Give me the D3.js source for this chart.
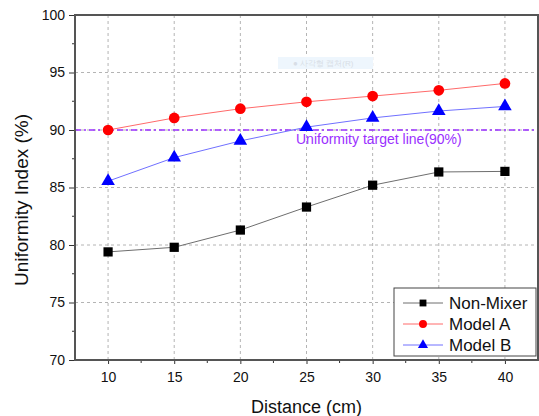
<!DOCTYPE html>
<html>
<head>
<meta charset="utf-8">
<script src="https://cdn.jsdelivr.net/npm/d3@7"></script>
<style>
  body { margin: 0; background: #fff; }
  text { font-family: "Liberation Sans", Arial, sans-serif; }
</style>
</head>
<body>
<script>
const width = 539;
const height = 416;
const padLeft = 75, padRight = 538, padTop = 15, padBottom = 360;

const distances = [10, 15, 20, 25, 30, 35, 40];
const nonMixer = [79.4, 79.8, 81.3, 83.3, 85.2, 86.35, 86.4];
const modelA = [90.0, 91.05, 91.85, 92.45, 92.95, 93.45, 94.05];
const modelB = [85.55, 87.6, 89.05, 90.25, 91.05, 91.65, 92.05];
const xTicks = [10, 15, 20, 25, 30, 35, 40];
const yTicks = [70, 75, 80, 85, 90, 95, 100];
const target = 90;

const series = [
  {name: "Non-Mixer", values: nonMixer, line: "#6e6e6e", fill: "#000000", shape: d3.symbolSquare, size: 85},
  {name: "Model A", values: modelA, line: "#ff6a6a", fill: "#ff0000", shape: d3.symbolCircle, size: 90},
  {name: "Model B", values: modelB, line: "#7070ff", fill: "#0000ff", shape: d3.symbolTriangle, size: 80}
];

const x = d3.scaleLinear().domain([7.5, 42.5]).range([padLeft, padRight]);
const y = d3.scaleLinear().domain([70, 100]).range([padBottom, padTop]);

const svg = d3.select("body").append("svg")
  .attr("width", width).attr("height", height);

// grid
svg.append("g").selectAll("line").data(xTicks).enter().append("line")
  .attr("x1", d => x(d)).attr("x2", d => x(d))
  .attr("y1", padTop).attr("y2", padBottom)
  .attr("stroke", "#b4b4b4").attr("stroke-width", 1).attr("stroke-dasharray", "3,3");
svg.append("g").selectAll("line").data(yTicks.filter(d => d > 70 && d < 100)).enter().append("line")
  .attr("x1", padLeft).attr("x2", padRight)
  .attr("y1", d => y(d)).attr("y2", d => y(d))
  .attr("stroke", "#b4b4b4").attr("stroke-width", 1).attr("stroke-dasharray", "3,3");

// faint screen-capture tooltip artefact
svg.append("rect").attr("x", 278).attr("y", 57).attr("width", 95).attr("height", 12)
  .attr("fill", "#eef6fd");
svg.append("text").attr("x", 293).attr("y", 66).attr("font-size", 8).attr("fill", "#d8dee6")
  .text("● 사각형 캡처(R)");

// target line
svg.append("line")
  .attr("x1", padLeft).attr("x2", padRight)
  .attr("y1", y(target)).attr("y2", y(target))
  .attr("stroke", "#9b30ff").attr("stroke-width", 1.5).attr("stroke-dasharray", "6,3,2,3");
svg.append("text").attr("x", 296).attr("y", 144)
  .attr("font-size", 14).attr("fill", "#9b30ff")
  .text("Uniformity target line(90%)");

// axes
const xAxis = d3.axisBottom(x).tickValues(xTicks).tickSize(4).tickPadding(8);
const yAxis = d3.axisLeft(y).tickValues(yTicks).tickSize(6).tickPadding(4);

const gx = svg.append("g").attr("transform", `translate(0,${padBottom})`).call(xAxis);
const gy = svg.append("g").attr("transform", `translate(${padLeft},0)`).call(yAxis);
[gx, gy].forEach(g => {
  g.select(".domain").remove();
  g.selectAll(".tick line").attr("stroke", "#333");
  g.selectAll(".tick text").attr("font-size", 14).attr("fill", "#111")
    .attr("font-family", "Liberation Sans, Arial, sans-serif");
});
// minor ticks
svg.append("g").selectAll("line").data(d3.range(12.5, 42.5, 5)).enter().append("line")
  .attr("x1", d => x(d)).attr("x2", d => x(d))
  .attr("y1", padBottom).attr("y2", padBottom + 3).attr("stroke", "#333");
svg.append("g").selectAll("line").data(d3.range(72.5, 100, 5)).enter().append("line")
  .attr("x1", padLeft - 3).attr("x2", padLeft)
  .attr("y1", d => y(d)).attr("y2", d => y(d)).attr("stroke", "#333");

// frame
svg.append("rect").attr("x", padLeft).attr("y", padTop)
  .attr("width", padRight - padLeft).attr("height", padBottom - padTop)
  .attr("fill", "none").attr("stroke", "#555").attr("stroke-width", 2);

// series
const line = d3.line().x((d, i) => x(distances[i])).y(d => y(d));
series.forEach(s => {
  svg.append("path").datum(s.values)
    .attr("d", line).attr("fill", "none")
    .attr("stroke", s.line).attr("stroke-width", 1);
  svg.append("g").selectAll("path").data(s.values).enter().append("path")
    .attr("d", d3.symbol().type(s.shape).size(s.size))
    .attr("transform", (d, i) => `translate(${x(distances[i])},${y(d)})`)
    .attr("fill", s.fill);
});

// legend
const lg = svg.append("g");
lg.append("rect").attr("x", 394).attr("y", 288).attr("width", 142).attr("height", 68)
  .attr("fill", "#fff").attr("stroke", "#444").attr("stroke-width", 1);
series.forEach((s, i) => {
  const ly = 303 + i * 21;
  lg.append("line").attr("x1", 403).attr("x2", 443).attr("y1", ly).attr("y2", ly)
    .attr("stroke", s.line).attr("stroke-width", 1);
  lg.append("path").attr("d", d3.symbol().type(s.shape).size(s.size * 0.55))
    .attr("transform", `translate(423,${ly})`).attr("fill", s.fill);
  lg.append("text").attr("x", 449).attr("y", ly + 6).attr("font-size", 17).attr("fill", "#111")
    .text(s.name);
});

// axis titles
svg.append("text").attr("x", (padLeft + padRight) / 2).attr("y", 413)
  .attr("text-anchor", "middle").attr("font-size", 18).attr("fill", "#111")
  .text("Distance (cm)");
svg.append("text").attr("transform", "translate(28,200) rotate(-90)")
  .attr("text-anchor", "middle").attr("font-size", 19).attr("fill", "#111")
  .text("Uniformity Index (%)");
</script>
</body>
</html>
